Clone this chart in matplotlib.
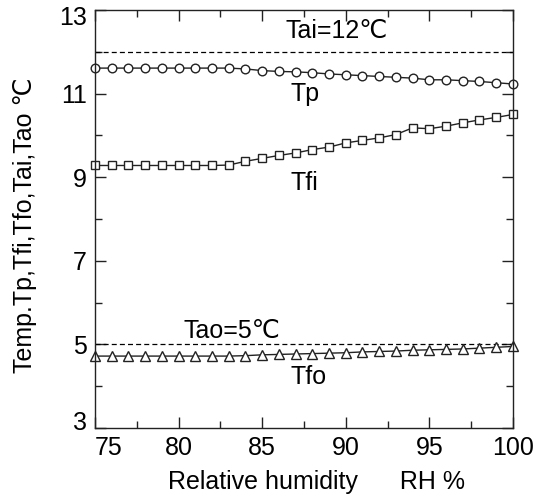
import numpy as np
import matplotlib.pyplot as plt
import matplotlib.transforms as mtransforms
from matplotlib.ticker import MultipleLocator

plt.rcParams['font.family'] = ['Liberation Sans', 'DejaVu Sans']

rh = list(range(75, 101))

tp = [11.61, 11.61, 11.61, 11.61, 11.61, 11.61, 11.61, 11.61, 11.61,
      11.59, 11.55, 11.53, 11.52, 11.50, 11.47, 11.45, 11.43, 11.41,
      11.39, 11.37, 11.33, 11.33, 11.31, 11.29, 11.26, 11.23]

tfi = [9.28, 9.28, 9.28, 9.28, 9.28, 9.28, 9.28, 9.28, 9.29,
       9.38, 9.45, 9.52, 9.58, 9.66, 9.72, 9.82, 9.88, 9.94,
       10.02, 10.18, 10.16, 10.22, 10.30, 10.37, 10.43, 10.50]

tfo = [4.72, 4.72, 4.72, 4.72, 4.72, 4.72, 4.72, 4.72, 4.72,
       4.73, 4.75, 4.76, 4.77, 4.78, 4.79, 4.80, 4.82, 4.83,
       4.84, 4.86, 4.87, 4.88, 4.89, 4.91, 4.93, 4.95]

tai = 12
tao = 5
xticks = [75, 80, 85, 90, 95, 100]
yticks = [3, 5, 7, 9, 11, 13]

fig = plt.figure(figsize=(5.41, 4.95), dpi=100)
ax = fig.add_axes([0.1756, 0.1354, 0.7724, 0.8444])

ax.axhline(tai, color='black', lw=0.9, ls=(0, (4, 2.5)))
ax.axhline(tao, color='black', lw=0.9, ls=(0, (4, 2.5)))

ln = dict(color='#222222', lw=1.0, markerfacecolor='white',
          markeredgecolor='#222222', markeredgewidth=1.0, clip_on=False)
ax.plot(rh, tp, marker='o', markersize=6.2, **ln)
ax.plot(rh, tfi, marker='s', markersize=5.3, **ln)
ax.plot(rh, tfo, marker='^', markersize=6.8, **ln)

fs = 18
ax.text(86.4, 12.5, 'Tai=12℃', fontsize=fs, va='center')
ax.text(86.7, 11.0, 'Tp', fontsize=fs, va='center')
ax.text(86.7, 8.87, 'Tfi', fontsize=fs, va='center')
ax.text(80.3, 5.33, 'Tao=5℃', fontsize=fs, va='center')
ax.text(86.7, 4.23, 'Tfo', fontsize=fs, va='center')

ax.set_xlim(75, 100)
ax.set_ylim(3, 13)
ax.set_xticks(xticks)
ax.xaxis.set_minor_locator(MultipleLocator(2.5))
ax.set_yticks(yticks)
ax.yaxis.set_minor_locator(MultipleLocator(1))

ax.tick_params(which='both', direction='in', top=True, right=True,
               labelsize=fs, width=1.0, color='#222222')
ax.tick_params(which='major', length=8, pad=6)
ax.tick_params(which='minor', length=5)

for s in ax.spines.values():
    s.set_linewidth(1.0)
    s.set_color('#222222')

ax.set_xlabel('Relative humidity      RH %', fontsize=fs)
ax.set_ylabel('Temp.Tp,Tfi,Tfo,Tai,Tao ℃', fontsize=fs)
ax.xaxis.set_label_coords(0.529, -0.1)
ax.yaxis.set_label_coords(-0.139, 0.486)

fig.canvas.draw()
def shift(lbl, dx, dy):
    lbl.set_transform(lbl.get_transform() +
                      mtransforms.ScaledTranslation(dx, dy, fig.dpi_scale_trans))

xl = ax.get_xticklabels()
xl[0].set_horizontalalignment('left')
yl = ax.get_yticklabels()
shift(yl[0], 0, 0.07)
shift(yl[-1], 0, -0.06)

fig.savefig('out.png', dpi=100)
